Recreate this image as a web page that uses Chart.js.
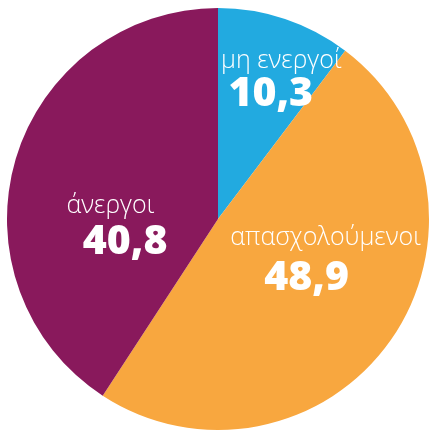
<!DOCTYPE html>
<html>
<head>
<meta charset="utf-8">
<script src="https://cdn.jsdelivr.net/npm/chart.js@4"></script>
<style>
  html, body { margin: 0; padding: 0; background: #fff; }
  #wrap { width: 430px; height: 430px; }
</style>
</head>
<body>
<div id="wrap"><canvas id="pita"></canvas></div>
<script>
const kathgories = ['μη ενεργοί', 'απασχολούμενοι', 'άνεργοι'];
const times = [10.3, 48.9, 40.8];
const etiketesTimwn = ['10,3', '48,9', '40,8'];
const xrwmata = ['#22aae0', '#f8a73f', '#89195c'];

// θέση κάθε ετικέτας σε σχέση με το κέντρο (κλάσμα της ακτίνας)
const theseisOnomatos = [[0.30, -0.75], [0.51, 0.09], [-0.51, -0.06]];
const theseisTimis = [[0.25, -0.59], [0.42, 0.28], [-0.44, 0.11]];

const etiketes = {
    id: 'etiketes',
    afterDatasetsDraw(chart) {
        const ctx = chart.ctx;
        const arc = chart.getDatasetMeta(0).data[0];
        const cx = arc.x, cy = arc.y, r = arc.outerRadius;
        ctx.save();
        ctx.fillStyle = '#fff';
        ctx.textAlign = 'center';
        ctx.textBaseline = 'middle';
        kathgories.forEach((k, i) => {
            ctx.font = '300 25px "Open Sans"';
            ctx.fillText(k, cx + theseisOnomatos[i][0] * r, cy + theseisOnomatos[i][1] * r);
            ctx.font = '800 41px "Open Sans"';
            ctx.fillText(etiketesTimwn[i], cx + theseisTimis[i][0] * r, cy + theseisTimis[i][1] * r);
        });
        ctx.restore();
    }
};

new Chart(document.getElementById('pita'), {
    type: 'pie',
    data: {
        labels: kathgories,
        datasets: [{
            data: times,
            backgroundColor: xrwmata,
            borderWidth: 0
        }]
    },
    options: {
        responsive: true,
        maintainAspectRatio: false,
        animation: false,
        layout: { padding: { left: 7, right: 1, top: 8, bottom: 0 } },
        plugins: {
            legend: { display: false },
            tooltip: { enabled: false }
        }
    },
    plugins: [etiketes]
});
</script>
</body>
</html>
